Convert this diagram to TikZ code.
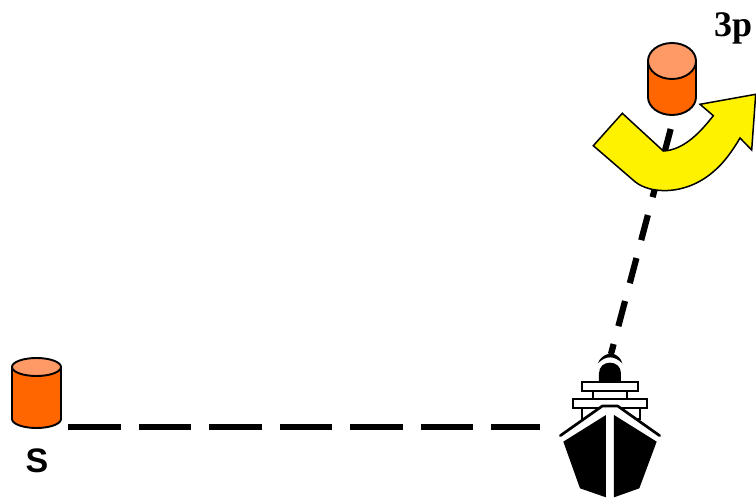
\documentclass[tikz,border=0pt]{standalone}
\usepackage{fontspec}
\setmainfont{Liberation Serif}
\setsansfont{Liberation Sans}
\definecolor{drumbody}{HTML}{FF6600}
\definecolor{drumtop}{HTML}{FF9966}
\tikzset{
  sightline/.style={line width=6.2pt,draw=black},
  drumline/.style={line width=1.9pt,draw=black,line join=round},
  shipbar/.style={draw=black,fill=white,line width=2.1pt},
  shipink/.style={fill=black,draw=none},
  turnarrow/.style={fill=yellow,draw=black,line width=1.5pt,line join=miter},
  labeltext/.style={inner sep=0pt,anchor=base,text=black}
}
\newcommand{\drawdrum}[5]{% cx, half-width, top centre y, bottom centre y, ry
  \path[fill=drumbody,drumline] (#1-#2,#3) -- (#1-#2,#4) arc[start angle=180,end angle=360,x radius=#2,y radius=-#5] -- (#1+#2,#3) -- cycle;
  \path[fill=drumtop,drumline] (#1,#3) ellipse[x radius=#2,y radius=#5];
}
\begin{document}
\begin{tikzpicture}[x=1pt,y=-1pt]
\useasboundingbox (0,0) rectangle (756,498);
% connector end points
\coordinate (sEnd) at (68.3,427);
\coordinate (shipW) at (540,427);
\coordinate (drumEnd) at (670.7,129);
\coordinate (shipN) at (607,369);
% sight lines
\draw[sightline,dash pattern=on 52.4pt off 18.1pt] (sEnd) -- (shipW);
\draw[sightline,dash pattern=on 26pt off 18.5pt] (drumEnd) -- (shipN);
% drums
\drawdrum{36.5}{24.5}{367}{419}{9}
\drawdrum{672}{24}{61}{97}{18}
% yellow turning arrow
\path[turnarrow] (622.3,113.3) -- (593.3,145.7) -- (635,181.7)
  .. controls (650,194) and (685,196) .. (713,172)
  .. controls (724,163) and (733,150) .. (740,138)
  -- (751.7,150) -- (755.7,94.3) -- (700,104.3) -- (713.3,115.7)
  .. controls (702,130) and (685,150) .. (663.3,151) -- cycle;
% ship
\begin{scope}[shift={(540,340)},x=0.3333pt,y=-0.3333pt]
  \path[fill=white] (165,40) rectangle (255,75);
  \path[shipink] (212,15) -- (228,18) -- (222,42)
     .. controls (235,48) and (243,56) .. (247,70)
     .. controls (235,58) and (222,52) .. (210,52)
     .. controls (198,52) and (185,58) .. (174,70)
     .. controls (178,56) and (190,46) .. (206,41) -- cycle;
  \path[shipink] (177,125) -- (177,100) .. controls (177,80) and (192,68) .. (210,68)
     .. controls (228,68) and (243,80) .. (243,100) -- (243,125) -- cycle;
  \draw[shipbar] (125,203) -- (125,238) -- (300,238) -- (300,203);
  \draw[shipbar] (160,152) rectangle (262,178);
  \draw[shipbar] (125,127) rectangle (295,152);
  \draw[shipbar] (100,178) rectangle (322,203);
  \path[fill=white] (60,300) -- (60,285) -- (185,197) -- (235,197) -- (360,285) -- (360,300) -- (210,300) -- cycle;
  \draw[line width=2.7pt,black,line cap=round,line join=round] (61,287) -- (187,198) -- (233,198) -- (359,287);
  \path[fill=white] (100,300) -- (195,222) -- (225,222) -- (320,300) -- (350,310) -- (300,450) -- (120,450) -- (70,310) -- cycle;
  \path[shipink] (198,225) -- (198,472) -- (120,445) -- (70,305) -- cycle;
  \path[shipink] (222,225) -- (222,472) -- (298,445) -- (350,305) -- cycle;
\end{scope}
% labels
\node[labeltext,anchor=base west,font=\fontsize{36}{36}\selectfont\bfseries] (threeP) at (714,36) {3p};
\node[labeltext,font=\sffamily\fontsize{34}{34}\selectfont\bfseries] (sLabel) at (37,472) {S};
\end{tikzpicture}
\end{document}
